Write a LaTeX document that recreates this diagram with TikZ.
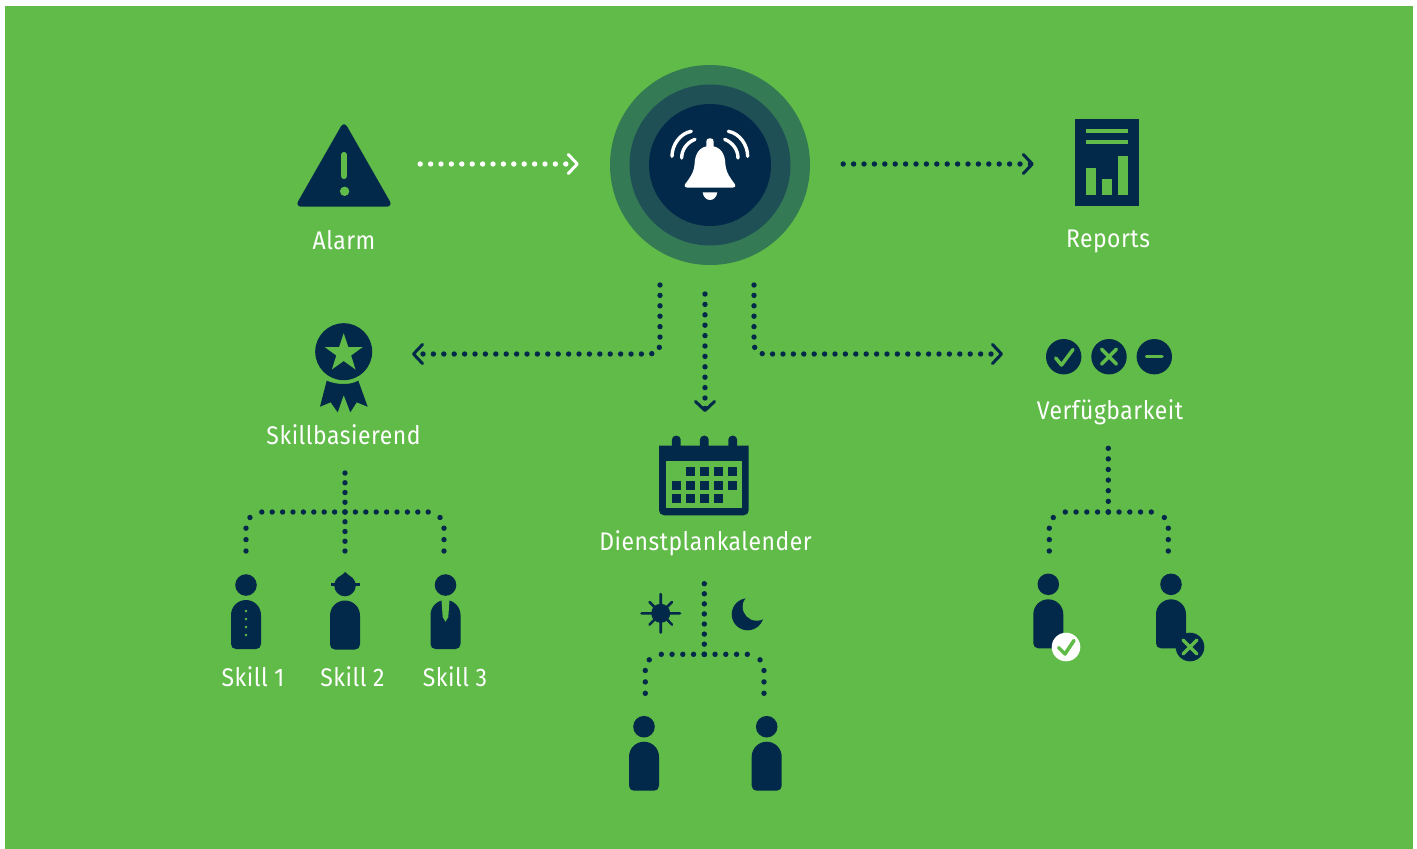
\documentclass[tikz,border=0pt]{standalone}
\usepackage{fontspec}
\setmainfont[LetterSpace=2,FakeStretch=0.9]{Fira Sans}
\usetikzlibrary{arrows.meta,calc}
\definecolor{bggreen}{RGB}{96,187,72}
\definecolor{navy}{RGB}{3,41,74}
\definecolor{ringa}{RGB}{52,122,85}
\definecolor{ringb}{RGB}{30,80,85}
\tikzset{
  dotline/.style={line width=5.4pt,line cap=round,dash pattern=on 0pt off 10.4pt,draw=navy},
  dotgap/.style={dash pattern=on 0pt off #1pt},
  dotwhite/.style={dotline,draw=white},
  chev/.style={-{Straight Barb[length=9pt,width=19pt,line width=3pt,round]}},
  lbl/.style={text=white,font=\fontsize{25.5}{25.5}\selectfont,inner sep=0pt,anchor=base},
  slot/.style={inner sep=0pt,minimum height=10pt},
  glyphline/.style={line width=3.5pt,line cap=round,line join=round,draw=bggreen},
  wave/.style={line width=3.4pt,line cap=round,draw=white},
  person/.pic={
    \fill[navy] (0,0) circle (10.8);
    \fill[navy] (-15,30) .. controls (-15,21.7) and (-8.3,15) .. (0,15) .. controls (8.3,15) and (15,21.7) .. (15,30) -- (15,59) .. controls (15,62) and (13,64) .. (10,64) -- (-10,64) .. controls (-13,64) and (-15,62) .. (-15,59) -- cycle;
  }
}
\newcommand\dotbranch[4]{%
  \draw[dotline,dotgap=#4] (#1) -- ($(#1 -| #2)+(#3*15.5,0)$);
  \draw[dotline,dotgap=11.4] (#2) -- ++(0,-22.8) -- ++(#3*4.3,-11.6);
}
\begin{document}
\begin{tikzpicture}[x=1pt,y=-1pt]
\useasboundingbox (0,0) rectangle (1417,849);
\fill[white] (0,0) rectangle (1417,849);
\fill[bggreen] (5,6) rectangle (1413,849);

% hub
\node[circle,fill=ringa,minimum size=200pt,inner sep=0pt] (hub) at (710,165) {};
\node[circle,fill=ringb,minimum size=161pt,inner sep=0pt] (hubmid) at (710,165) {};
\node[circle,fill=navy,minimum size=122pt,inner sep=0pt] (hubin) at (710,165) {};
\begin{scope}[shift={(590,50)},x=.3333pt,y=-.3333pt]
  \fill[white,rounded corners=3pt] (349,300) -- (349,265) -- (371,265) -- (371,300) -- cycle;
  \fill[white] (360,288) .. controls (330,288) and (315,310) .. (314,340)
     .. controls (312,370) and (298,385) .. (285,403)
     .. controls (282,409) and (285,413) .. (292,413) -- (428,413)
     .. controls (435,413) and (438,409) .. (435,403)
     .. controls (422,385) and (408,370) .. (406,340)
     .. controls (405,310) and (390,288) .. (360,288) -- cycle;
  \fill[white] (338,427) -- (382,427) .. controls (380,442) and (370,450) .. (360,450) .. controls (350,450) and (340,442) .. (338,427) -- cycle;
  \draw[wave] (246,319) .. controls (246,285) and (270,250) .. (304,244);
  \draw[wave] (275,324) .. controls (275,300) and (290,278) .. (315,268);
  \draw[wave] (473,319) .. controls (473,285) and (449,250) .. (415,244);
  \draw[wave] (444,324) .. controls (444,300) and (429,278) .. (404,268);
\end{scope}

% alarm
\node[slot,minimum width=152pt] (alarm) at (344,164) {};
\fill[navy,rounded corners=6.5pt] (344,121) -- (295,206.7) -- (393,206.7) -- cycle;
\draw[line width=6.2pt,line cap=round,draw=bggreen] (344,155) -- (344,176);
\fill[bggreen] (344.6,191.3) circle (4.7);
\node[lbl] (alarmt) at (344,249.5) {Alarm};

% reports
\node[slot,minimum width=146pt] (reports) at (1107,164) {};
\fill[navy] (1075,119) rectangle (1139,206);
\fill[bggreen] (1085.7,129) rectangle (1128.3,133.3);
\fill[bggreen] (1085.7,140) rectangle (1128.3,144.3);
\fill[bggreen] (1085.7,167.7) rectangle (1095.7,195);
\fill[bggreen] (1102,178.7) rectangle (1112,195);
\fill[bggreen] (1118.3,156.3) rectangle (1128.3,195);
\node[lbl] (reportst) at (1108,247) {Reports};

% top arrows
\draw[dotwhite,chev,shorten >=31pt] (alarm.east) -- (alarm.east -| hub.west);
\draw[dotline,chev,shorten <=33pt] (hub.east |- reports.west) -- (reports.west);

% medal
\node[circle,fill=navy,minimum size=57pt,inner sep=0pt] (medal) at (343.7,351.7) {};
\fill[bggreen] (343.7,333.3) -- (348.3,347) -- (362.8,347) -- (351.1,355.5) -- (355.5,369.5) -- (343.7,361) -- (331.9,369.5) -- (336.3,355.5) -- (324.6,347) -- (339.1,347) -- cycle;
\fill[navy] (326.7,380.7) .. controls (332,383) and (338,384) .. (343.7,384) .. controls (349.4,384) and (354,383) .. (358.3,380.7)
  -- (367.7,406.7) -- (356.7,402.3) -- (350.3,412.3) -- (343.7,395) -- (337.7,412.3) -- (330.7,402.3) -- (320,406.7) -- cycle;
\node[lbl] (skillt) at (343.5,444.5) {Skillbasierend};

% verfuegbarkeit icons
\node[circle,fill=navy,minimum size=35.4pt,inner sep=0pt] (vok) at (1063.7,356.7) {};
\node[circle,fill=navy,minimum size=35.4pt,inner sep=0pt] (vno) at (1109,356.7) {};
\node[circle,fill=navy,minimum size=35.4pt,inner sep=0pt] (vmin) at (1154.3,356.7) {};
\draw[glyphline] (1055.7,358) -- (1061.5,365) -- (1073,349.5);
\draw[glyphline] (1101.5,349.2) -- (1116.5,364.2) (1101.5,364.2) -- (1116.5,349.2);
\draw[glyphline] (1146.5,356.7) -- (1162,356.7);
\node[lbl] (verft) at (1110,419.8) {Verfügbarkeit};

% calendar
\fill[navy] (659,445.7) -- (748.7,445.7) -- (748.7,510.3) .. controls (748.7,513) and (746.7,515.3) .. (743.7,515.3) -- (664,515.3) .. controls (661,515.3) and (659,513) .. (659,510.3) -- cycle;
\foreach \tx in {676.3,704.3,732.7}{
  \fill[navy,rounded corners=4pt] (\tx-4.4,450) -- (\tx-4.4,435.7) -- (\tx+4.4,435.7) -- (\tx+4.4,450) -- cycle;
}
\fill[bggreen] (666,460.7) rectangle (742.3,508.3);
\foreach \cx/\cy in {686/467,700/467,714/467,728/467,672/481,686/481,700/481,714/481,728/481,672/494,686/494,700/494,714/494}{
  \fill[navy] (\cx,\cy) rectangle ++(9,9);
}
\node[lbl] (dienstt) at (705.5,550.5) {Dienstplankalender};

% sun and moon
\fill[navy] (660.7,613.3) circle (9.5);
\draw[navy,line width=2.6pt,line cap=round] (641.5,613.3) -- (680,613.3) (660.7,594) -- (660.7,632.5) (649.5,602) -- (672,624.6) (649.5,624.6) -- (672,602);
\fill[navy] (747.7,614.3) circle (16);
\fill[bggreen] (756.7,606.7) circle (14);

% centre connectors
\coordinate (hl) at (660,285);
\coordinate (hm) at (705,294);
\coordinate (hr) at (754,285);
\coordinate (inS) at (412,354);
\coordinate (inD) at (705,412);
\coordinate (inV) at (1003,354);
\draw[dotline,chev,rounded corners=10pt] (hl) |- (inS);
\draw[dotline,chev] (hm) -- (inD);
\draw[dotline,chev,rounded corners=10pt] (hr) |- (inV);

% skill tree
\coordinate (sTop) at (345,473);
\coordinate (sJ) at (345,512);
\coordinate (s1) at (246,551);
\coordinate (s2) at (345,551);
\coordinate (s3) at (444,551);
\draw[dotline,dotgap=9.75] (sTop) -- (s2);
\dotbranch{sJ}{s1}{1}{10.4}
\dotbranch{sJ}{s3}{-1}{10.4}
\pic at (246,585) {person};
\fill[bggreen] (246,611) circle (1.3) (246,619) circle (1.3) (246,627) circle (1.3) (246,635) circle (1.3);
\pic at (345,585.5) {person};
\draw[navy,line width=2.6pt] (331,584.5) -- (360,584.5);
\fill[navy] (338.5,578) -- (345.2,572) -- (352,578) -- cycle;
\pic at (445.5,585) {person};
\fill[bggreen] (441.5,600) -- (449.5,600) -- (448.3,617) -- (445.5,621.7) -- (442.7,617) -- cycle;
\node[lbl] (sk1) at (253,686.5) {Skill 1};
\node[lbl] (sk2) at (352.5,686.5) {Skill 2};
\node[lbl] (sk3) at (455,686.5) {Skill 3};

% dienst tree
\coordinate (dTop) at (704.3,583.7);
\coordinate (dJ) at (704.3,654.3);
\coordinate (d1) at (645.3,693.3);
\coordinate (d2) at (764,693.3);
\draw[dotline,dotgap=10.08] (dTop) -- (dJ);
\dotbranch{dJ}{d1}{1}{10.75}
\dotbranch{dJ}{d2}{-1}{10.75}
\pic at (644,726.7) {person};
\pic at (766.7,726.7) {person};

% verf tree
\coordinate (vTop) at (1108.3,448.3);
\coordinate (vJ) at (1108.3,512);
\coordinate (v1) at (1049.3,551);
\coordinate (v2) at (1168.3,551);
\draw[dotline,dotgap=10.6] (vTop) -- (vJ);
\dotbranch{vJ}{v1}{1}{10.75}
\dotbranch{vJ}{v2}{-1}{10.75}
\pic at (1048.3,584.3) {person};
\pic at (1171,584.3) {person};
\node[circle,fill=white,minimum size=28.6pt,inner sep=0pt] (bok) at (1066,647) {};
\node[circle,fill=navy,minimum size=28.6pt,inner sep=0pt] (bno) at (1190,647) {};
\draw[glyphline] (1058.5,647.5) -- (1065,654) -- (1074,640.5);
\draw[glyphline] (1183,640) -- (1197,654) (1183,654) -- (1197,640);
\end{tikzpicture}
\end{document}
